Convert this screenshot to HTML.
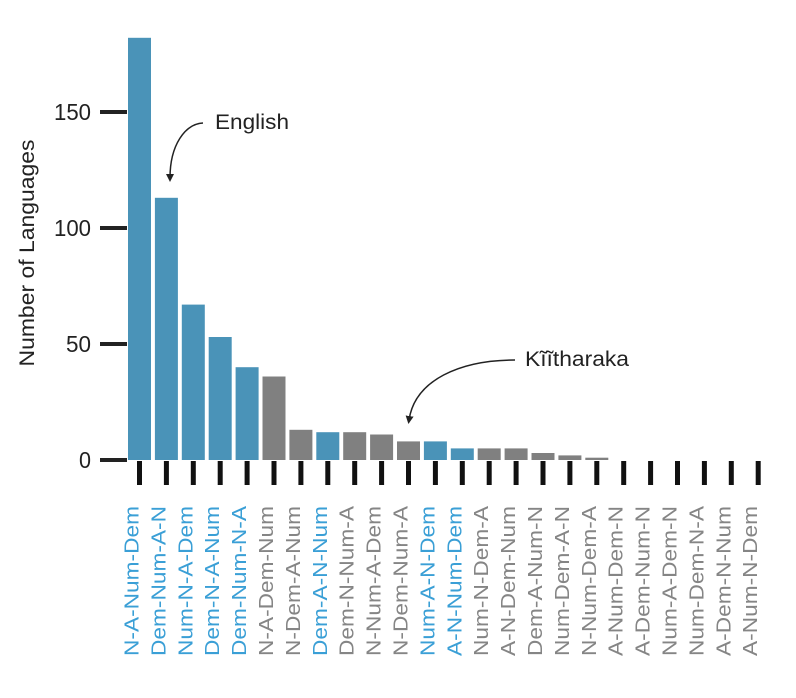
<!DOCTYPE html>
<html><head><meta charset="utf-8"><style>
html,body{margin:0;padding:0;background:#fff;}
svg{display:block;font-family:"Liberation Sans",Arial,sans-serif;}
</style></head><body>
<svg width="796" height="698" viewBox="0 0 796 698">
<defs><marker id="ah" markerWidth="8" markerHeight="8" refX="4" refY="4" orient="auto" markerUnits="userSpaceOnUse"><path d="M0,0 L8,4 L0,8 Z" fill="#222"/></marker></defs>
<g fill="#222">
<rect x="100" y="110" width="27" height="4"/>
<rect x="100" y="226" width="27" height="4"/>
<rect x="100" y="342" width="27" height="4"/>
<rect x="100" y="458" width="27" height="4"/>
</g>
<g font-size="23" fill="#222" text-anchor="end">
<text x="91" y="120" textLength="37" lengthAdjust="spacingAndGlyphs">150</text>
<text x="91" y="236" textLength="37" lengthAdjust="spacingAndGlyphs">100</text>
<text x="91" y="352" textLength="25" lengthAdjust="spacingAndGlyphs">50</text>
<text x="91" y="468" textLength="12" lengthAdjust="spacingAndGlyphs">0</text>
</g>
<text transform="translate(34,253) rotate(-90)" font-size="21" fill="#222" text-anchor="middle" textLength="227" lengthAdjust="spacingAndGlyphs">Number of Languages</text>
<g fill="#4a93b8">
<rect x="128" y="37.8" width="23" height="422.2"/>
<rect x="154.9" y="197.8" width="23" height="262.2"/>
<rect x="181.8" y="304.6" width="23" height="155.4"/>
<rect x="208.7" y="337" width="23" height="123"/>
<rect x="235.6" y="367.2" width="23" height="92.8"/>
<rect x="316.3" y="432.2" width="23" height="27.8"/>
<rect x="423.9" y="441.4" width="23" height="18.6"/>
<rect x="450.8" y="448.4" width="23" height="11.6"/>
</g>
<g fill="#808080">
<rect x="262.5" y="376.5" width="23" height="83.5"/>
<rect x="289.4" y="429.8" width="23" height="30.2"/>
<rect x="343.2" y="432.2" width="23" height="27.8"/>
<rect x="370.1" y="434.5" width="23" height="25.5"/>
<rect x="397" y="441.4" width="23" height="18.6"/>
<rect x="477.7" y="448.4" width="23" height="11.6"/>
<rect x="504.6" y="448.4" width="23" height="11.6"/>
<rect x="531.5" y="453" width="23" height="7"/>
<rect x="558.4" y="455.4" width="23" height="4.6"/>
<rect x="585.3" y="457.7" width="23" height="2.3"/>
</g>
<g fill="#111">
<rect x="137" y="461" width="5" height="24"/><rect x="163.9" y="461" width="5" height="24"/><rect x="190.8" y="461" width="5" height="24"/><rect x="217.7" y="461" width="5" height="24"/><rect x="244.6" y="461" width="5" height="24"/><rect x="271.5" y="461" width="5" height="24"/><rect x="298.4" y="461" width="5" height="24"/><rect x="325.3" y="461" width="5" height="24"/><rect x="352.2" y="461" width="5" height="24"/><rect x="379.1" y="461" width="5" height="24"/><rect x="406" y="461" width="5" height="24"/><rect x="432.9" y="461" width="5" height="24"/><rect x="459.8" y="461" width="5" height="24"/><rect x="486.7" y="461" width="5" height="24"/><rect x="513.6" y="461" width="5" height="24"/><rect x="540.5" y="461" width="5" height="24"/><rect x="567.4" y="461" width="5" height="24"/><rect x="594.3" y="461" width="5" height="24"/><rect x="621.2" y="461" width="5" height="24"/><rect x="648.1" y="461" width="5" height="24"/><rect x="675" y="461" width="5" height="24"/><rect x="701.9" y="461" width="5" height="24"/><rect x="728.8" y="461" width="5" height="24"/><rect x="755.7" y="461" width="5" height="24"/>
</g>
<g font-size="20" fill="#3a9fd6">
<text transform="translate(138.5,656) rotate(-90)" textLength="150" lengthAdjust="spacingAndGlyphs">N-A-Num-Dem</text>
<text transform="translate(165.4,656) rotate(-90)" textLength="150" lengthAdjust="spacingAndGlyphs">Dem-Num-A-N</text>
<text transform="translate(192.3,656) rotate(-90)" textLength="150" lengthAdjust="spacingAndGlyphs">Num-N-A-Dem</text>
<text transform="translate(219.2,656) rotate(-90)" textLength="150" lengthAdjust="spacingAndGlyphs">Dem-N-A-Num</text>
<text transform="translate(246.1,656) rotate(-90)" textLength="150" lengthAdjust="spacingAndGlyphs">Dem-Num-N-A</text>
<text transform="translate(326.8,656) rotate(-90)" textLength="150" lengthAdjust="spacingAndGlyphs">Dem-A-N-Num</text>
<text transform="translate(434.4,656) rotate(-90)" textLength="150" lengthAdjust="spacingAndGlyphs">Num-A-N-Dem</text>
<text transform="translate(461.3,656) rotate(-90)" textLength="150" lengthAdjust="spacingAndGlyphs">A-N-Num-Dem</text>
</g>
<g font-size="20" fill="#858585">
<text transform="translate(273,656) rotate(-90)" textLength="150" lengthAdjust="spacingAndGlyphs">N-A-Dem-Num</text>
<text transform="translate(299.9,656) rotate(-90)" textLength="150" lengthAdjust="spacingAndGlyphs">N-Dem-A-Num</text>
<text transform="translate(353.7,656) rotate(-90)" textLength="150" lengthAdjust="spacingAndGlyphs">Dem-N-Num-A</text>
<text transform="translate(380.6,656) rotate(-90)" textLength="150" lengthAdjust="spacingAndGlyphs">N-Num-A-Dem</text>
<text transform="translate(407.5,656) rotate(-90)" textLength="150" lengthAdjust="spacingAndGlyphs">N-Dem-Num-A</text>
<text transform="translate(488.2,656) rotate(-90)" textLength="150" lengthAdjust="spacingAndGlyphs">Num-N-Dem-A</text>
<text transform="translate(515.1,656) rotate(-90)" textLength="150" lengthAdjust="spacingAndGlyphs">A-N-Dem-Num</text>
<text transform="translate(542,656) rotate(-90)" textLength="150" lengthAdjust="spacingAndGlyphs">Dem-A-Num-N</text>
<text transform="translate(568.9,656) rotate(-90)" textLength="150" lengthAdjust="spacingAndGlyphs">Num-Dem-A-N</text>
<text transform="translate(595.8,656) rotate(-90)" textLength="150" lengthAdjust="spacingAndGlyphs">N-Num-Dem-A</text>
<text transform="translate(622.7,656) rotate(-90)" textLength="150" lengthAdjust="spacingAndGlyphs">A-Num-Dem-N</text>
<text transform="translate(649.6,656) rotate(-90)" textLength="150" lengthAdjust="spacingAndGlyphs">A-Dem-Num-N</text>
<text transform="translate(676.5,656) rotate(-90)" textLength="150" lengthAdjust="spacingAndGlyphs">Num-A-Dem-N</text>
<text transform="translate(703.4,656) rotate(-90)" textLength="150" lengthAdjust="spacingAndGlyphs">Num-Dem-N-A</text>
<text transform="translate(730.3,656) rotate(-90)" textLength="150" lengthAdjust="spacingAndGlyphs">A-Dem-N-Num</text>
<text transform="translate(757.2,656) rotate(-90)" textLength="150" lengthAdjust="spacingAndGlyphs">A-Num-N-Dem</text>
</g>
<text x="215" y="129" font-size="21" fill="#222" textLength="74" lengthAdjust="spacingAndGlyphs">English</text>
<path d="M203,123 C185,124 170,145 170,178" fill="none" stroke="#222" stroke-width="1.5" marker-end="url(#ah)"/>
<text x="525" y="366" font-size="21" fill="#222" textLength="104" lengthAdjust="spacingAndGlyphs">Kĩĩtharaka</text>
<path d="M515,360 C460,360 415,380 409,420" fill="none" stroke="#222" stroke-width="1.5" marker-end="url(#ah)"/>
</svg>
</body></html>
